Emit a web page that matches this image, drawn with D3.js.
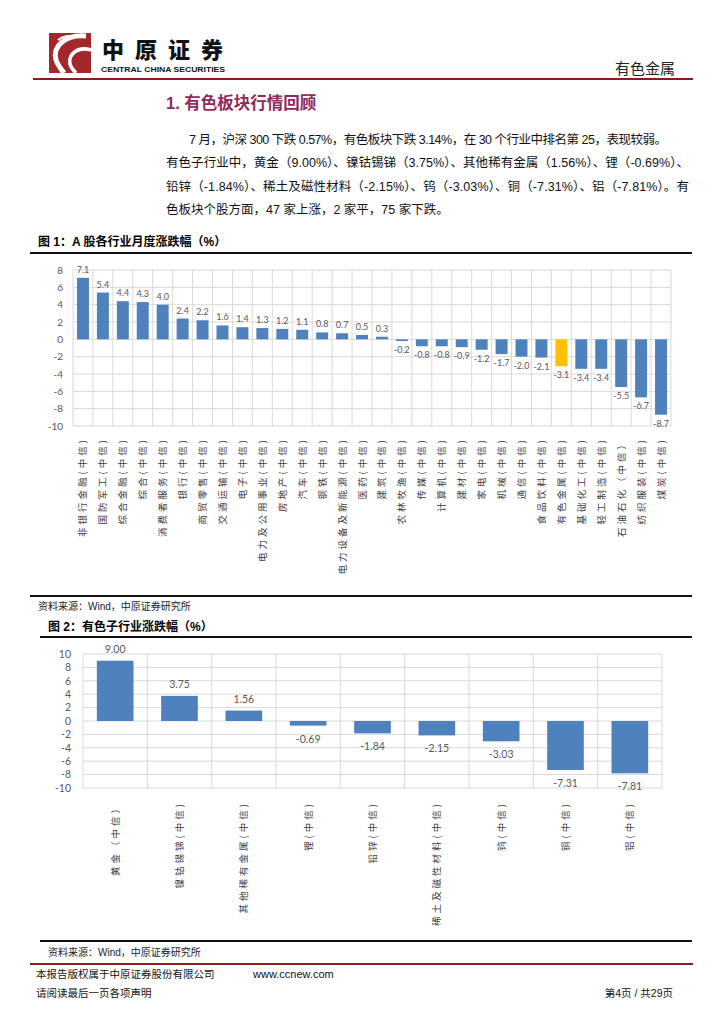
<!DOCTYPE html>
<html>
<head>
<meta charset="utf-8">
<script src="https://cdn.jsdelivr.net/npm/d3@7"></script>
<style>
  body { margin: 0; background: #fff; }
  svg { display: block; }
  .cjk { font-family: "Liberation Sans", "Noto Sans CJK SC", sans-serif; }
  .num { font-family: Lato, "Noto Sans", sans-serif; }
</style>
</head>
<body>
<div class="canvas"></div>
<script>
// figure 1: monthly change of CITIC industries (%)
const industries = [
  '非银行金融(中信)', '国防军工(中信)', '综合金融(中信)', '综合(中信)', '消费者服务(中信)',
  '银行(中信)', '商贸零售(中信)', '交通运输(中信)', '电子(中信)', '电力及公用事业(中信)',
  '房地产(中信)', '汽车(中信)', '钢铁(中信)', '电力设备及新能源(中信)', '医药(中信)',
  '建筑(中信)', '农林牧渔(中信)', '传媒(中信)', '计算机(中信)', '建材(中信)',
  '家电(中信)', '机械(中信)', '通信(中信)', '食品饮料(中信)', '有色金属(中信)',
  '基础化工(中信)', '轻工制造(中信)', '石油石化（中信）', '纺织服装(中信)', '煤炭(中信)'
];
const industryChg = [
  7.1, 5.4, 4.4, 4.3, 4.0, 2.4, 2.2, 1.6, 1.4, 1.3,
  1.2, 1.1, 0.8, 0.7, 0.5, 0.3, -0.2, -0.8, -0.8, -0.9,
  -1.2, -1.7, -2.0, -2.1, -3.1, -3.4, -3.4, -5.5, -6.7, -8.7
];
const highlighted = '有色金属(中信)';
const ticks1 = [8, 6, 4, 2, 0, -2, -4, -6, -8, -10];

// figure 2: non-ferrous sub-industries (%)
const subIndustries = [
  '黄金（中信）', '镍钴锡锑(中信)', '其他稀有金属(中信)', '锂(中信)', '铅锌(中信)',
  '稀土及磁性材料(中信)', '钨(中信)', '铜(中信)', '铝(中信)'
];
const subChg = [9.00, 3.75, 1.56, -0.69, -1.84, -2.15, -3.03, -7.31, -7.81];
const ticks2 = [10, 8, 6, 4, 2, 0, -2, -4, -6, -8, -10];

const paragraph = [
  { x: 189, y: 144, t: '7 月，沪深 300 下跌 0.57%，有色板块下跌 3.14%，在 30 个行业中排名第 25，表现较弱。', w: 478 },
  { x: 166, y: 167, t: '有色子行业中，黄金（9.00%）、镍钴锡锑（3.75%）、其他稀有金属（1.56%）、锂（-0.69%）、', w: 523 },
  { x: 166, y: 191, t: '铅锌（-1.84%）、稀土及磁性材料（-2.15%）、钨（-3.03%）、铜（-7.31%）、铝（-7.81%）。有', w: 523 },
  { x: 166, y: 214, t: '色板块个股方面，47 家上涨，2 家平，75 家下跌。', w: null }
];

const W = 724, H = 1024;
const blue = '#4f81bd', gold = '#ffc000', grid = '#d9d9d9', grey = '#595959';
// plain hyphen for negatives, as in the source chart
const hy = f => v => f(v).replace('\u2212', '-');

const svg = d3.select('.canvas')
  .append('svg')
  .attr('width', W)
  .attr('height', H);

svg.append('rect').attr('width', W).attr('height', H).attr('fill', '#fff');

// ---- page header ----
const logo = svg.append('g');
logo.append('rect')
  .attr('x', 49).attr('y', 33).attr('width', 42).attr('height', 40)
  .attr('fill', '#a3282b');
logo.append('path')
  .attr('d', 'M86 36 C66 34 52 46 56 60 C58 66 62 70 64 73')
  .attr('fill', 'none').attr('stroke', '#fff').attr('stroke-width', 5);
logo.append('path')
  .attr('d', 'M91 50 C78 46 68 54 70 64 C71 68 74 71 76 73')
  .attr('fill', 'none').attr('stroke', '#fff').attr('stroke-width', 3.5);
logo.append('path')
  .attr('d', 'M58 40 C62 36 70 35 74 37')
  .attr('fill', 'none').attr('stroke', '#fff').attr('stroke-width', 2);

svg.append('text')
  .attr('x', 102).attr('y', 58)
  .attr('font-family', '"Noto Sans CJK SC"')
  .attr('font-weight', 900)
  .attr('font-size', 22)
  .attr('letter-spacing', 11)
  .attr('fill', '#111')
  .text('中原证券');
svg.append('text')
  .attr('x', 101).attr('y', 72)
  .attr('font-family', '"Liberation Sans"')
  .attr('font-weight', 'bold')
  .attr('font-size', 7)
  .attr('textLength', 124)
  .attr('lengthAdjust', 'spacingAndGlyphs')
  .attr('fill', '#111')
  .text('CENTRAL CHINA SECURITIES');

svg.append('text')
  .attr('x', 675).attr('y', 74)
  .attr('text-anchor', 'end')
  .attr('font-family', '"Noto Sans CJK SC"')
  .attr('font-size', 15)
  .attr('fill', '#222')
  .text('有色金属');

svg.append('line')
  .attr('x1', 33).attr('x2', 693).attr('y1', 79).attr('y2', 79)
  .attr('stroke', '#8b1c1c').attr('stroke-width', 2);

// ---- section heading and paragraph ----
svg.append('text')
  .attr('x', 166).attr('y', 109)
  .attr('class', 'cjk')
  .attr('font-size', 16.5)
  .attr('font-weight', 'bold')
  .attr('fill', '#8e2a5c')
  .text('1. 有色板块行情回顾');

svg.append('g').selectAll('text')
  .data(paragraph)
  .join('text')
  .attr('class', 'cjk')
  .attr('x', d => d.x)
  .attr('y', d => d.y)
  .attr('font-size', 12.5)
  .attr('fill', '#111')
  .attr('textLength', d => d.w)
  .attr('lengthAdjust', 'spacing')
  .text(d => d.t);

// ---- generic bar chart ----
const drawBars = (opts) => {
  const { cats, vals, ticks, x0, x1, y0, y1, barFrac, tickPad, tickSize,
          labelFont, labelFmt, aboveGap, belowGap, catTop, catFont, catSpacing } = opts;

  const x = d3.scaleBand().domain(cats).range([x0, x1]).padding(0);
  const y = d3.scaleLinear().domain([d3.min(ticks), d3.max(ticks)]).range([y1, y0]);
  const bw = x.bandwidth() * barFrac;

  const g = svg.append('g');

  // gridlines
  g.append('g').selectAll('line')
    .data(ticks)
    .join('line')
    .attr('x1', x0).attr('x2', x1)
    .attr('y1', d => y(d)).attr('y2', d => y(d))
    .attr('stroke', grid).attr('stroke-width', 1);

  g.append('g').selectAll('line')
    .data(cats.map(c => x(c)).concat([x1]))
    .join('line')
    .attr('x1', d => d).attr('x2', d => d)
    .attr('y1', y0).attr('y2', y1)
    .attr('stroke', grid).attr('stroke-width', 1);

  // y axis
  const axis = g.append('g')
    .attr('transform', `translate(${x0},0)`)
    .call(d3.axisLeft(y).tickValues(ticks).tickFormat(d => String(d)).tickSize(0).tickPadding(tickPad));
  axis.select('.domain').remove();
  axis.selectAll('text')
    .attr('font-family', 'Lato, "Noto Sans", sans-serif')
    .attr('font-size', tickSize)
    .attr('fill', grey);

  // bars
  const data = cats.map((c, i) => ({ c, v: vals[i] }));
  g.append('g').selectAll('rect')
    .data(data)
    .join('rect')
    .attr('x', d => x(d.c) + (x.bandwidth() - bw) / 2)
    .attr('width', bw)
    .attr('y', d => y(Math.max(0, d.v)))
    .attr('height', d => Math.abs(y(d.v) - y(0)))
    .attr('fill', d => d.c === highlighted ? gold : blue);

  // value labels
  g.append('g').selectAll('text')
    .data(data)
    .join('text')
    .attr('class', 'num')
    .attr('x', d => x(d.c) + x.bandwidth() / 2)
    .attr('y', d => d.v >= 0 ? y(d.v) - aboveGap : y(d.v) + belowGap)
    .attr('text-anchor', 'middle')
    .attr('font-size', labelFont)
    .attr('fill', grey)
    .text(d => labelFmt(d.v));

  // category labels, rotated
  g.append('g').selectAll('text')
    .data(cats)
    .join('text')
    .attr('transform', d => `translate(${x(d) + x.bandwidth() / 2 + 3.5},${catTop}) rotate(-90)`)
    .attr('text-anchor', 'end')
    .attr('font-family', '"Noto Sans CJK SC"')
    .attr('font-size', catFont)
    .attr('letter-spacing', catSpacing)
    .attr('fill', '#404040')
    .text(d => d);
};

const frameTitle = (txt, x, y, lx0, lx1, ly) => {
  svg.append('text')
    .attr('x', x).attr('y', y)
    .attr('class', 'cjk')
    .attr('font-size', 12)
    .attr('font-weight', 'bold')
    .attr('fill', '#000')
    .text(txt);
  svg.append('line')
    .attr('x1', lx0).attr('x2', lx1).attr('y1', ly).attr('y2', ly)
    .attr('stroke', '#111').attr('stroke-width', 2.2);
};

const source = (x, y) => {
  svg.append('text')
    .attr('x', x).attr('y', y)
    .attr('class', 'cjk')
    .attr('font-size', 10)
    .attr('fill', '#222')
    .text('资料来源：Wind，中原证券研究所');
};

// figure 1
frameTitle('图 1：A 股各行业月度涨跌幅（%）', 38, 246, 30, 692, 253);
drawBars({
  cats: industries, vals: industryChg, ticks: ticks1,
  x0: 73, x1: 671, y0: 270, y1: 426, barFrac: 0.6,
  tickPad: 10, tickSize: 10,
  labelFont: 9, labelFmt: hy(d3.format('.1f')), aboveGap: 5, belowGap: 12,
  catTop: 437, catFont: 9.5, catSpacing: 3
});
svg.append('line')
  .attr('x1', 30).attr('x2', 692).attr('y1', 596).attr('y2', 596)
  .attr('stroke', '#111').attr('stroke-width', 2.2);
source(38, 610);

// figure 2
frameTitle('图 2：有色子行业涨跌幅（%）', 48, 631, 40, 692, 637);
drawBars({
  cats: subIndustries, vals: subChg, ticks: ticks2,
  x0: 83, x1: 662, y0: 654, y1: 788, barFrac: 0.57,
  tickPad: 12, tickSize: 10.5,
  labelFont: 10.5, labelFmt: hy(d3.format('.2f')), aboveGap: 8, belowGap: 17,
  catTop: 801, catFont: 9.5, catSpacing: 3
});
svg.append('line')
  .attr('x1', 40).attr('x2', 692).attr('y1', 941).attr('y2', 941)
  .attr('stroke', '#111').attr('stroke-width', 2.2);
source(48, 956);

// ---- footer ----
svg.append('line')
  .attr('x1', 30).attr('x2', 693).attr('y1', 964).attr('y2', 964)
  .attr('stroke', '#8b1c1c').attr('stroke-width', 2);
svg.append('text')
  .attr('x', 36).attr('y', 978)
  .attr('class', 'cjk')
  .attr('font-size', 10.5)
  .attr('fill', '#111')
  .text('本报告版权属于中原证券股份有限公司');
svg.append('text')
  .attr('x', 253).attr('y', 978)
  .attr('font-family', '"Liberation Sans"')
  .attr('font-size', 11)
  .attr('fill', '#111')
  .text('www.ccnew.com');
svg.append('text')
  .attr('x', 36).attr('y', 997)
  .attr('class', 'cjk')
  .attr('font-size', 10.5)
  .attr('fill', '#111')
  .text('请阅读最后一页各项声明');
svg.append('text')
  .attr('x', 673).attr('y', 997)
  .attr('text-anchor', 'end')
  .attr('class', 'cjk')
  .attr('font-size', 10.5)
  .attr('fill', '#111')
  .text('第4页 / 共29页');
</script>
</body>
</html>
